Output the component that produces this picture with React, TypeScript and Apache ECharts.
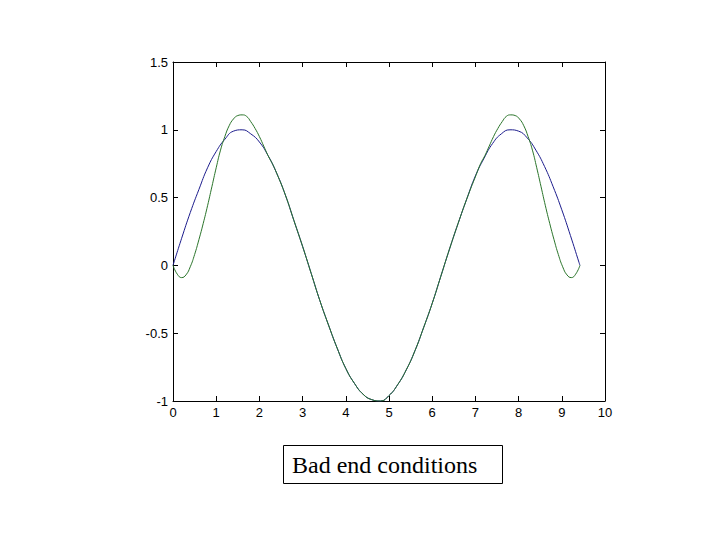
import React, { useEffect, useRef } from "react";
import * as echarts from "echarts";

const blueX = [0, 0.2, 0.4, 0.6, 0.8, 1.0, 1.2, 1.4, 1.6, 1.8, 2.0, 2.2, 2.4, 2.6, 2.8, 3.0, 3.2, 3.4, 3.6, 3.8, 4.0, 4.2, 4.4, 4.6, 4.8, 5.0, 5.2, 5.4, 5.6, 5.8, 6.0, 6.2, 6.4, 6.6, 6.8, 7.0, 7.2, 7.4, 7.6, 7.8, 8.0, 8.2, 8.4, 8.6, 8.8, 9.0, 9.2, 9.4, 9.42];
const blueY = [0, 0.2, 0.39, 0.56, 0.72, 0.84, 0.93, 0.99, 1.0, 0.97, 0.91, 0.81, 0.68, 0.52, 0.33, 0.14, -0.06, -0.26, -0.44, -0.61, -0.76, -0.87, -0.95, -0.99, -1.0, -0.96, -0.88, -0.77, -0.63, -0.46, -0.28, -0.08, 0.12, 0.31, 0.49, 0.66, 0.79, 0.9, 0.97, 1.0, 0.99, 0.94, 0.85, 0.73, 0.58, 0.41, 0.22, 0.02, 0];

const greenX = [
  0, 0.1, 0.2, 0.3, 0.4, 0.5, 0.6, 0.7, 0.8, 0.9, 1.0, 1.1, 1.2, 1.3, 1.4, 1.5, 1.6, 1.7, 1.8, 1.9, 2.0, 2.1, 2.2, 2.3, 2.4,
  2.6, 2.8, 3.0, 3.2, 3.4, 3.6, 3.8, 4.0, 4.2, 4.4, 4.6, 4.8, 5.0, 5.2, 5.4, 5.6, 5.8, 6.0, 6.2, 6.4, 6.6, 6.8,
  7.02, 7.12, 7.22, 7.32, 7.42, 7.52, 7.62, 7.72, 7.82, 7.92, 8.02, 8.12, 8.22, 8.32, 8.42, 8.52, 8.62, 8.72, 8.82, 8.92, 9.02, 9.12, 9.22, 9.32, 9.42,
];
const greenY = [
  0, -0.065, -0.09, -0.07, -0.01, 0.08, 0.19, 0.31, 0.44, 0.58, 0.72, 0.85, 0.95, 1.03, 1.08, 1.105, 1.11, 1.1, 1.06, 1.01, 0.95, 0.88, 0.81, 0.75, 0.68,
  0.52, 0.33, 0.14, -0.06, -0.26, -0.44, -0.61, -0.76, -0.87, -0.95, -0.99, -1.0, -0.96, -0.88, -0.77, -0.63, -0.46, -0.28, -0.08, 0.12, 0.31, 0.49,
  0.67, 0.75, 0.81, 0.88, 0.95, 1.01, 1.06, 1.1, 1.11, 1.105, 1.08, 1.03, 0.95, 0.85, 0.72, 0.58, 0.44, 0.31, 0.19, 0.08, -0.01, -0.07, -0.09, -0.065, 0,
];

const xMin = 0;
const xMax = 10;
const xStep = 1;
const yMin = -1;
const yMax = 1.5;
const yStep = 0.5;
const caption = "Bad end conditions";

export default function App() {
  const ref = useRef<HTMLDivElement>(null);
  useEffect(() => {
    document.body.style.margin = "0";
    if (!ref.current) return;
    const chart = echarts.init(ref.current, undefined, { renderer: "svg" });
    const labelFont = { fontFamily: "Liberation Sans, Arial, sans-serif", fontSize: 13, color: "#000" };
    const tick = { show: true, inside: true, length: 5, lineStyle: { color: "#000", width: 1 } };
    const line = { show: true, onZero: false, lineStyle: { color: "#000", width: 1 } };
    chart.setOption({
      animation: false,
      backgroundColor: "#fff",
      grid: { left: 173, top: 62, width: 432, height: 339, containLabel: false },
      xAxis: [
        {
          type: "value", min: xMin, max: xMax, interval: xStep, position: "bottom",
          axisLine: line, axisTick: tick, splitLine: { show: false },
          axisLabel: { ...labelFont, margin: 5 },
        },
        {
          type: "value", min: xMin, max: xMax, interval: xStep, position: "top",
          axisLine: line, axisTick: tick, splitLine: { show: false },
          axisLabel: { show: false },
        },
      ],
      yAxis: [
        {
          type: "value", min: yMin, max: yMax, interval: yStep, position: "left",
          axisLine: line, axisTick: tick, splitLine: { show: false },
          axisLabel: { ...labelFont, margin: 5 },
        },
        {
          type: "value", min: yMin, max: yMax, interval: yStep, position: "right",
          axisLine: line, axisTick: tick, splitLine: { show: false },
          axisLabel: { show: false },
        },
      ],
      series: [
        {
          type: "line", xAxisIndex: 0, yAxisIndex: 0, showSymbol: false, symbol: "none", smooth: true,
          lineStyle: { color: "#1c1c8c", width: 1 },
          data: blueX.map((x, i) => [x, blueY[i]]),
        },
        {
          type: "line", xAxisIndex: 0, yAxisIndex: 0, showSymbol: false, symbol: "none", smooth: true,
          lineStyle: { color: "#2a742a", width: 1 },
          data: greenX.map((x, i) => [x, greenY[i]]),
        },
      ],
      graphic: [
        {
          type: "rect",
          shape: { x: 283.5, y: 445.5, width: 219, height: 38 },
          style: { fill: "#fff", stroke: "#000", lineWidth: 1 },
        },
        {
          type: "text",
          x: 292,
          y: 465,
          style: {
            text: caption,
            font: '24px "Liberation Serif", "Times New Roman", serif',
            fill: "#000",
            verticalAlign: "middle",
            align: "left",
          },
        },
      ],
    });
    return () => chart.dispose();
  }, []);
  return <div ref={ref} style={{ position: "fixed", left: 0, top: 0, width: 720, height: 540 }} />;
}
